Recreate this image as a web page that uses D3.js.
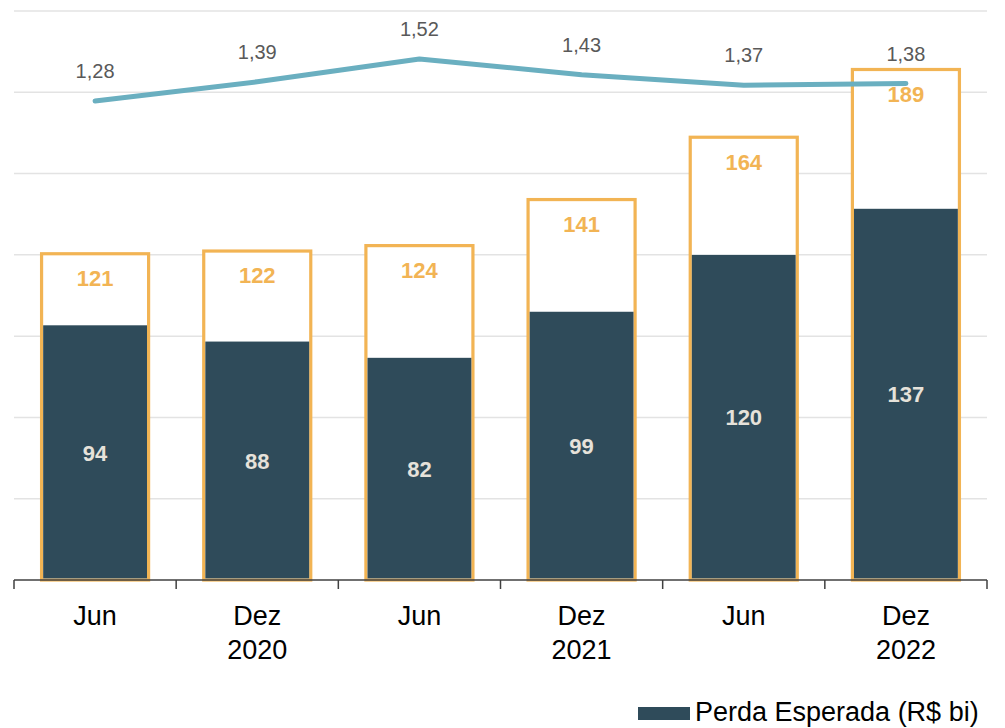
<!DOCTYPE html>
<html>
<head>
<meta charset="utf-8">
<script src="https://cdn.jsdelivr.net/npm/d3@7"></script>
<style>
  html, body { margin: 0; padding: 0; background: #fff; }
  svg { display: block; font-family: "Liberation Sans", Arial, sans-serif; }
</style>
</head>
<body>
<svg id="chart" width="1005" height="728"></svg>
<script>
// Semester labels (second line holds the year under each December)
const periods = ["Jun", "Dez", "Jun", "Dez", "Jun", "Dez"];
const years = ["", "2020", "", "2021", "", "2022"];
// Total provisions (R$ bi) — outlined bars
const provisao = [121, 122, 124, 141, 164, 189];
// Expected loss (R$ bi) — filled bars
const perdaEsperada = [94, 88, 82, 99, 120, 137];
// Coverage ratio — line
const cobertura = [1.28, 1.39, 1.52, 1.43, 1.37, 1.38];
const gridTicks = [30, 60, 90, 120, 150, 180, 210];

const svg = d3.select("#chart");
const colors = { orange: "#f2b454", dark: "#2f4b5a", line: "#6aafc0", grid: "#e3e3e3", axis: "#404040" };

const x = d3.scaleBand()
  .domain(d3.range(periods.length))
  .range([14, 987])
  .paddingInner(0.34)
  .paddingOuter(0.17);

const y = d3.scaleLinear().domain([0, 210]).range([580, 11]);
const yRatio = d3.scaleLinear().domain([1.2, 1.6]).range([115, 45]);

// Horizontal gridlines
svg.append("g")
  .selectAll("line")
  .data(gridTicks)
  .join("line")
  .attr("x1", 14).attr("x2", 987)
  .attr("y1", d => y(d)).attr("y2", d => y(d))
  .attr("stroke", colors.grid).attr("stroke-width", 1.5);

const bw = x.bandwidth();
const sw = 3.2;

// Outlined provision bars
svg.append("g")
  .selectAll("rect")
  .data(provisao)
  .join("rect")
  .attr("x", (d, i) => x(i))
  .attr("y", d => y(d) + sw / 2)
  .attr("width", bw)
  .attr("height", d => y(0) - y(d) - sw / 2)
  .attr("fill", "#fff")
  .attr("stroke", colors.orange)
  .attr("stroke-width", sw);

// Filled expected-loss bars
svg.append("g")
  .selectAll("rect")
  .data(perdaEsperada)
  .join("rect")
  .attr("x", (d, i) => x(i) + sw / 2)
  .attr("y", d => y(d))
  .attr("width", bw - sw)
  .attr("height", d => y(0) - sw / 2 - y(d))
  .attr("fill", colors.dark);

// Axis line with band-boundary ticks
const axisG = svg.append("g");
axisG.append("line")
  .attr("x1", 14).attr("x2", 987)
  .attr("y1", 580).attr("y2", 580)
  .attr("stroke", colors.axis).attr("stroke-width", 1.5);
axisG.selectAll("line.tick")
  .data(d3.range(periods.length + 1))
  .join("line")
  .attr("class", "tick")
  .attr("x1", i => 14 + i * x.step()).attr("x2", i => 14 + i * x.step())
  .attr("y1", 580).attr("y2", 589)
  .attr("stroke", colors.axis).attr("stroke-width", 1.5);

// Category labels
const cx = i => x(i) + bw / 2;
svg.append("g")
  .selectAll("text")
  .data(periods)
  .join("text")
  .attr("x", (d, i) => cx(i))
  .attr("y", 625)
  .attr("text-anchor", "middle")
  .attr("font-size", 27)
  .attr("fill", "#000")
  .text(d => d);
svg.append("g")
  .selectAll("text")
  .data(years)
  .join("text")
  .attr("x", (d, i) => cx(i))
  .attr("y", 659)
  .attr("text-anchor", "middle")
  .attr("font-size", 27)
  .attr("fill", "#000")
  .text(d => d);

// Provision value labels
svg.append("g")
  .selectAll("text")
  .data(provisao)
  .join("text")
  .attr("x", (d, i) => cx(i))
  .attr("y", d => y(d) + 34)
  .attr("text-anchor", "middle")
  .attr("font-size", 22)
  .attr("font-weight", "bold")
  .attr("fill", colors.orange)
  .text(d => d);

// Expected-loss value labels
svg.append("g")
  .selectAll("text")
  .data(perdaEsperada)
  .join("text")
  .attr("x", (d, i) => cx(i))
  .attr("y", d => (y(d) + y(0)) / 2 + 8)
  .attr("text-anchor", "middle")
  .attr("font-size", 22)
  .attr("font-weight", "bold")
  .attr("fill", "#e6e2da")
  .text(d => d);

// Coverage ratio line
const line = d3.line()
  .x((d, i) => cx(i))
  .y(d => yRatio(d));
svg.append("path")
  .datum(cobertura)
  .attr("d", line)
  .attr("fill", "none")
  .attr("stroke", colors.line)
  .attr("stroke-width", 5)
  .attr("stroke-linecap", "round")
  .attr("stroke-linejoin", "round");

svg.append("g")
  .selectAll("text")
  .data(cobertura)
  .join("text")
  .attr("x", (d, i) => cx(i))
  .attr("y", d => yRatio(d) - 23)
  .attr("text-anchor", "middle")
  .attr("font-size", 20)
  .attr("fill", "#595959")
  .text(d => d3.format(".2f")(d).replace(".", ","));

// Legend
const legend = svg.append("g");
legend.append("rect")
  .attr("x", 638).attr("y", 707)
  .attr("width", 52).attr("height", 13)
  .attr("fill", colors.dark);
legend.append("text")
  .attr("x", 695).attr("y", 721)
  .attr("font-size", 27)
  .attr("fill", "#000")
  .text("Perda Esperada (R$ bi)");
</script>
</body>
</html>
